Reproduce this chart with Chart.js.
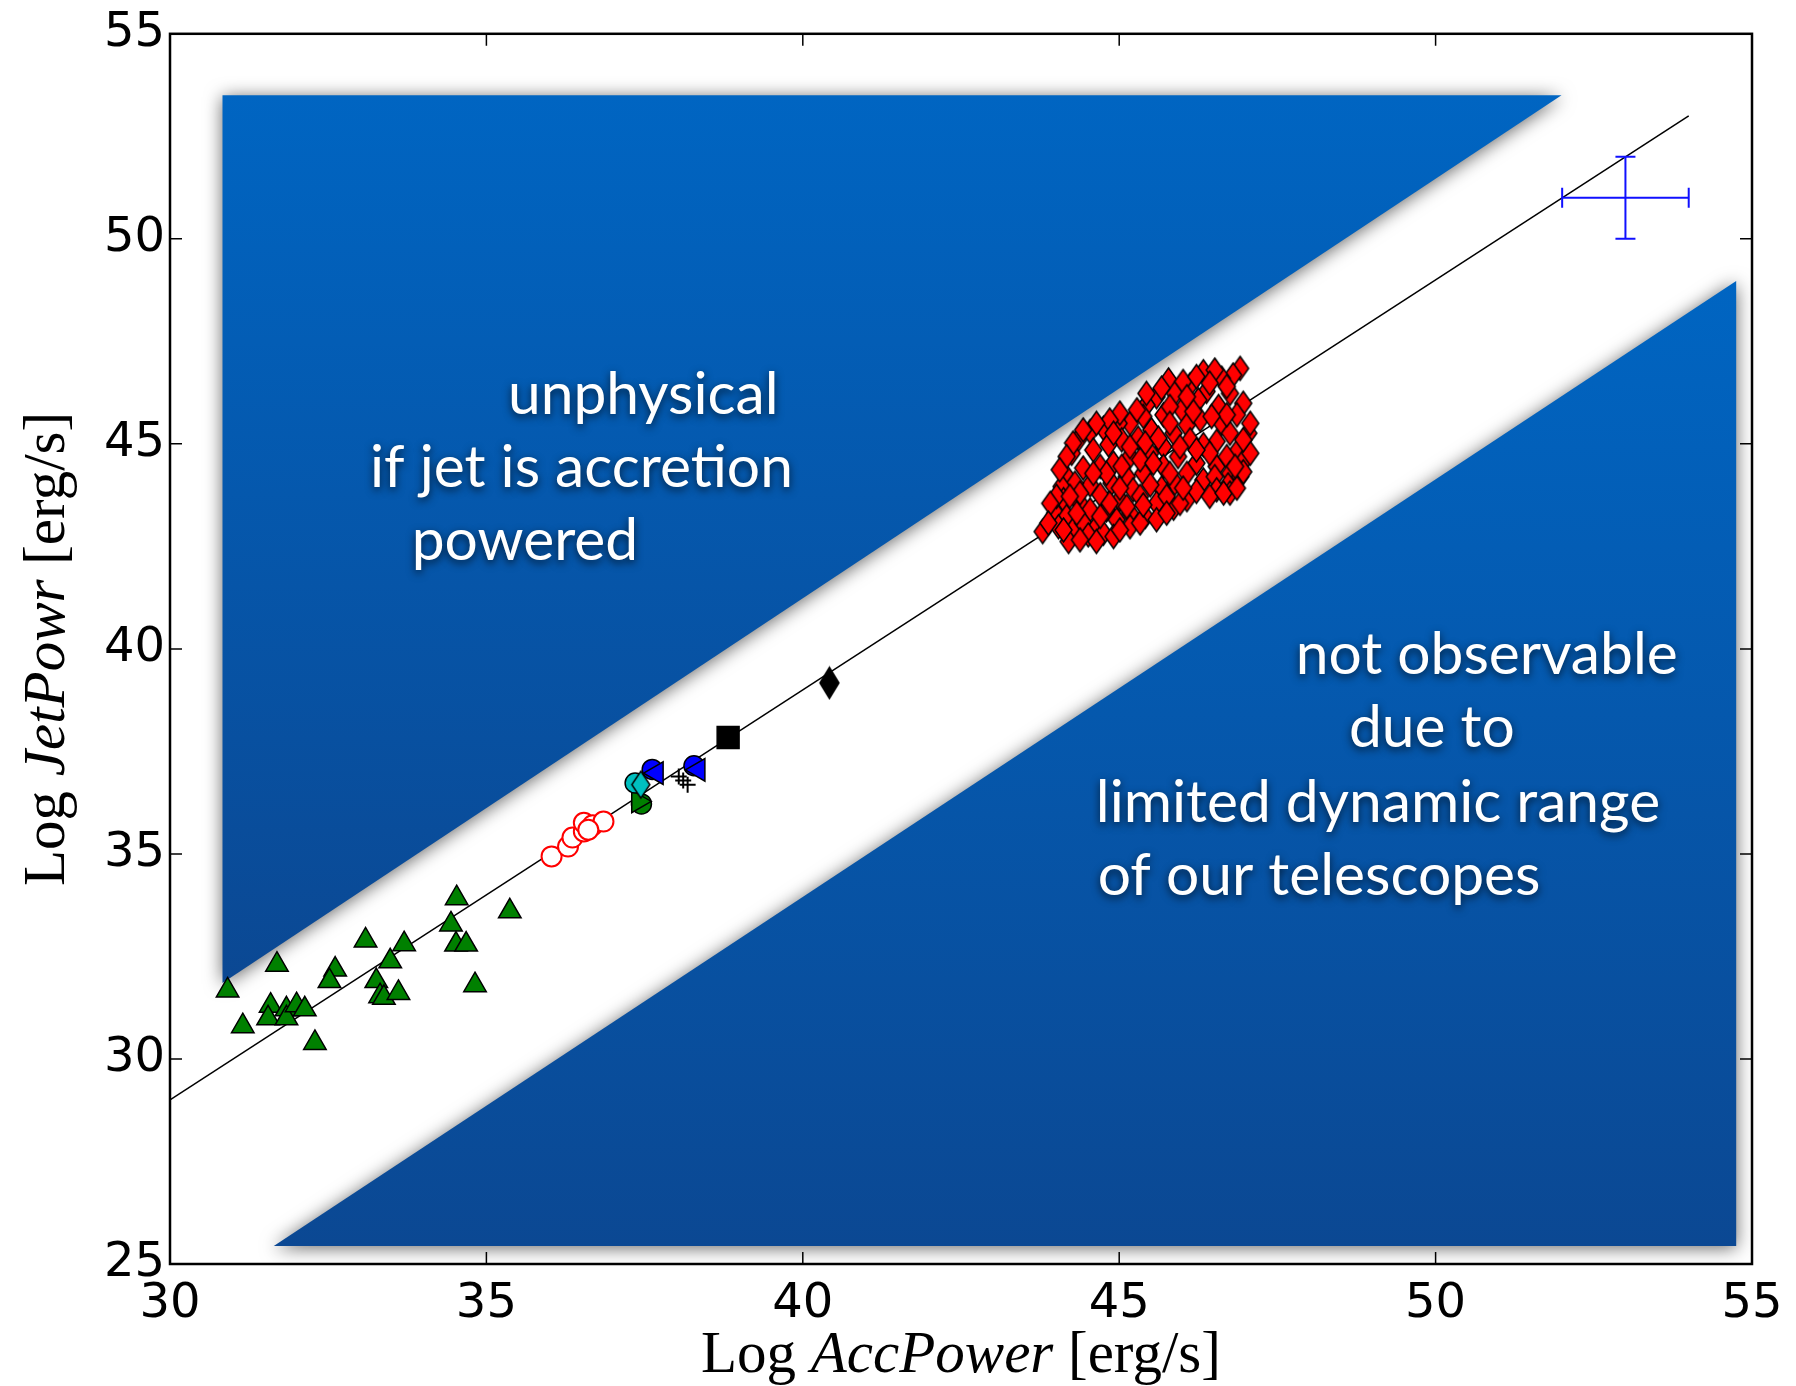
<!DOCTYPE html>
<html>
<head>
<meta charset="utf-8">
<script src="https://cdn.jsdelivr.net/npm/chart.js@4.4.1/dist/chart.umd.min.js"></script>
<style>
  html, body { margin: 0; padding: 0; background: #fff; }
  #wrap { width: 1796px; height: 1386px; }
</style>
</head>
<body>
<div id="wrap"><canvas id="chart" width="1796" height="1386"></canvas></div>
<script>
// ---- data (Log AccPower, Log JetPowr) ----
const triX = [30.91, 31.69, 31.15, 31.59, 31.55, 31.84, 31.84, 32.00, 32.13, 32.29, 32.61, 32.52, 33.09,
              33.26, 33.32, 33.38, 33.61, 33.48, 33.70, 34.44, 34.53, 34.52, 34.68, 34.82, 35.37];
const triY = [31.67, 32.30, 30.80, 31.30, 30.99, 31.21, 30.99, 31.31, 31.21, 30.39, 32.18, 31.90, 32.89,
              31.90, 31.53, 31.49, 31.61, 32.38, 32.80, 33.28, 33.92, 32.79, 32.79, 31.80, 33.60];

const ringX = [36.03, 36.29, 36.36, 36.54, 36.54, 36.68, 36.85, 36.61];
const ringY = [34.94, 35.18, 35.40, 35.55, 35.76, 35.70, 35.79, 35.59];

const diaX = [46.91, 46.80, 46.33, 46.62, 46.51, 45.78, 46.12, 46.38, 46.75, 46.96, 45.88, 45.59, 45.43, 46.25,
              46.57, 46.86, 47.04, 45.99, 45.70, 45.38, 45.17, 44.99, 44.75, 44.54, 44.35, 46.28, 46.62, 46.75,
              46.07, 45.86, 45.51, 45.30, 45.04, 44.83, 44.59, 44.25, 46.54, 46.33, 46.12, 46.86, 46.94, 45.70,
              45.49, 45.17, 44.91, 44.70, 44.43, 44.17, 45.93, 46.22, 46.54, 46.70, 46.75, 46.91, 46.72, 45.70,
              45.38, 45.12, 44.88, 44.54, 44.30, 44.09, 46.07, 46.33, 46.51, 45.88, 45.67, 45.22, 44.70, 44.38,
              44.12, 43.99, 45.59, 45.86, 46.07, 46.22, 45.33, 45.01, 44.80, 44.54, 44.17, 44.04, 44.27, 44.43,
              44.64, 44.96, 45.17, 45.41, 45.17, 44.75, 44.51, 44.20, 43.79, 44.91, 45.75, 46.54, 46.75, 46.96,
              46.01, 46.22, 45.67, 45.43, 45.28, 45.01, 44.85, 44.64, 44.43, 44.27, 44.17, 44.06, 44.01, 43.91,
              43.88, 44.12, 44.38, 44.64, 45.01, 45.33, 45.59, 45.75, 45.96, 46.43, 46.65, 46.86, 46.83, 47.07,
              46.96, 47.07, 46.70, 46.46, 46.17, 45.80, 46.07, 46.43, 46.70, 44.91, 45.17, 45.41, 45.62, 45.80,
              45.96, 46.43, 46.22, 45.04, 45.33, 45.54, 45.80, 46.01, 45.49, 45.01, 44.80, 44.59, 44.38, 44.22,
              44.85, 45.12, 45.38, 44.70, 44.33];
const diaY = [46.84, 46.68, 46.76, 46.60, 46.80, 46.56, 46.44, 46.28, 46.23, 45.99, 46.23, 46.15, 45.95, 46.07,
              45.91, 45.71, 45.26, 45.83, 45.71, 45.67, 45.50, 45.50, 45.38, 45.30, 45.10, 45.59, 45.50, 45.26,
              45.46, 45.26, 45.34, 45.14, 45.10, 44.98, 44.85, 44.77, 45.06, 44.98, 45.10, 44.81, 44.53, 44.93,
              44.77, 44.69, 44.53, 44.45, 44.41, 44.20, 44.69, 44.53, 44.45, 44.69, 44.28, 44.20, 44.00, 44.45,
              44.28, 44.20, 44.04, 44.00, 44.04, 43.96, 44.28, 44.12, 44.20, 44.04, 43.92, 43.88, 43.76, 43.55,
              43.64, 43.31, 43.55, 43.43, 43.64, 43.84, 43.72, 43.64, 43.39, 43.39, 43.23, 42.98, 42.90, 43.07,
              42.98, 43.15, 43.31, 43.23, 42.98, 42.82, 42.78, 42.62, 42.86, 42.74, 43.72, 43.88, 43.80, 44.32,
              46.52, 46.64, 46.36, 46.23, 45.83, 45.75, 45.58, 45.50, 45.34, 45.02, 44.69, 44.37, 43.72, 43.55,
              43.07, 42.90, 42.66, 42.62, 42.90, 43.07, 43.15, 43.31, 43.55, 43.72, 43.80, 43.92, 44.45, 44.77,
              45.10, 45.50, 45.71, 45.67, 45.79, 45.91, 46.15, 46.48, 46.40, 45.26, 44.93, 45.02, 45.14, 45.50,
              44.93, 44.77, 44.85, 44.45, 44.61, 44.53, 44.28, 43.92, 44.00, 43.92, 44.28, 44.28, 43.80, 43.72,
              43.55, 43.47, 43.51, 43.23, 43.31];

const greenRightX = [37.40], greenRightY = [36.28];
const greenDotX = [37.45], greenDotY = [36.22];
const cyanDiaX = [37.44], cyanDiaY = [36.69];
const cyanDotX = [37.35], cyanDotY = [36.73];
const blueLeftX = [37.69, 38.35], blueLeftY = [36.97, 37.05];
const blueDotX = [37.62, 38.28], blueDotY = [37.06, 37.15];
const hashX = [38.04, 38.11, 38.18], hashY = [36.89, 36.79, 36.69];
const squareX = [38.82], squareY = [37.84];
const blackDiaX = [40.42], blackDiaY = [39.17];

const fitX = [30, 54], fitY = [29, 53];
const errX = [53], errY = [51], errXHalf = [1], errYHalf = [1];

// shaded regions (corners in data units)
const upperX = [30.83, 51.99, 30.83], upperY = [53.50, 53.50, 31.85];
const lowerX = [31.64, 54.75, 54.75], lowerY = [25.44, 25.44, 48.97];

const xTicks = [30, 35, 40, 45, 50, 55];
const yTicks = [25, 30, 35, 40, 45, 50, 55];

// annotation text, anchored at left edge / baseline in data units
const notes = [
  ['unphysical', 35.34, 45.74],
  ['if jet is accretion', 33.16, 43.96],
  ['powered', 33.82, 42.18],
  ['not observable', 47.79, 39.40],
  ['due to', 48.63, 37.60],
  ['limited dynamic range', 44.63, 35.79],
  ['of our telescopes', 44.66, 33.99]
];

const pts = (xs, ys) => xs.map((v, i) => ({x: v, y: ys[i]}));

function diamondMarker(w, h, fill) {
  const c = document.createElement('canvas');
  c.width = w + 4;
  c.height = h + 4;
  const g = c.getContext('2d');
  g.beginPath();
  g.moveTo(c.width / 2, 2);
  g.lineTo(c.width - 2, c.height / 2);
  g.lineTo(c.width / 2, c.height - 2);
  g.lineTo(2, c.height / 2);
  g.closePath();
  g.fillStyle = fill;
  g.fill();
  g.lineWidth = 1.5;
  g.strokeStyle = '#000';
  g.stroke();
  return c;
}

const regionsPlugin = {
  id: 'regions',
  beforeDatasetsDraw(chart) {
    const {ctx, scales: {x, y}} = chart;
    [[upperX, upperY], [lowerX, lowerY]].forEach(([xs, ys]) => {
      const px = xs.map(v => x.getPixelForValue(v));
      const py = ys.map(v => y.getPixelForValue(v));
      const grad = ctx.createLinearGradient(0, Math.min(...py), 0, Math.max(...py));
      grad.addColorStop(0, '#0065c2');
      grad.addColorStop(1, '#0b4893');
      ctx.save();
      ctx.shadowColor = 'rgba(0,0,0,0.6)';
      ctx.shadowBlur = 18;
      ctx.shadowOffsetY = 2;
      ctx.beginPath();
      px.forEach((p, i) => i ? ctx.lineTo(p, py[i]) : ctx.moveTo(p, py[i]));
      ctx.closePath();
      ctx.fillStyle = grad;
      ctx.fill();
      ctx.restore();
    });

    // white labels on the regions
    ctx.save();
    ctx.font = '100px Lato';
    const size = 100 * 423 / ctx.measureText('if jet is accretion').width;
    ctx.font = size.toFixed(1) + 'px Lato';
    ctx.fillStyle = '#fff';
    ctx.textAlign = 'left';
    ctx.textBaseline = 'alphabetic';
    ctx.shadowColor = 'rgba(0,0,0,0.7)';
    ctx.shadowBlur = 8;
    ctx.shadowOffsetY = 3;
    notes.forEach(([t, nx, ny]) => ctx.fillText(t, x.getPixelForValue(nx), y.getPixelForValue(ny)));
    ctx.restore();
  }
};

const framePlugin = {
  id: 'frame',
  afterDatasetsDraw(chart) {
    const {ctx, chartArea: {left, right, top, bottom}, scales: {x, y}} = chart;
    ctx.save();
    ctx.strokeStyle = '#000';
    ctx.lineWidth = 1.5;
    ctx.beginPath();
    x.ticks.forEach(t => {
      const p = x.getPixelForValue(t.value);
      ctx.moveTo(p, bottom); ctx.lineTo(p, bottom - 12);
      ctx.moveTo(p, top); ctx.lineTo(p, top + 12);
    });
    y.ticks.forEach(t => {
      const p = y.getPixelForValue(t.value);
      ctx.moveTo(left, p); ctx.lineTo(left + 12, p);
      ctx.moveTo(right, p); ctx.lineTo(right - 12, p);
    });
    ctx.stroke();
    ctx.lineWidth = 2.5;
    ctx.strokeRect(left, top, right - left, bottom - top);
    ctx.restore();
  }
};

function drawMixed(ctx, parts, cx, baseline) {
  const fonts = parts.map(p => (p[1] ? 'italic ' : '') + '59px "Liberation Serif"');
  let total = 0;
  const widths = parts.map((p, i) => { ctx.font = fonts[i]; const w = ctx.measureText(p[0]).width; total += w; return w; });
  let cur = cx - total / 2;
  parts.forEach((p, i) => { ctx.font = fonts[i]; ctx.fillText(p[0], cur, baseline); cur += widths[i]; });
}

const titlesPlugin = {
  id: 'titles',
  afterDraw(chart) {
    const {ctx, chartArea: {left, right, top, bottom}} = chart;
    ctx.save();
    ctx.fillStyle = '#000';
    ctx.textAlign = 'left';
    ctx.textBaseline = 'alphabetic';
    drawMixed(ctx, [['Log ', false], ['AccPower', true], [' [erg/s]', false]], (left + right) / 2, 1372);
    ctx.translate(64, (top + bottom) / 2);
    ctx.rotate(-Math.PI / 2);
    drawMixed(ctx, [['Log ', false], ['JetPowr', true], [' [erg/s]', false]], 0, 0);
    ctx.restore();
  }
};

Chart.defaults.font.family = 'DejaVu Sans';
Chart.defaults.color = '#000';

const redDiamond = diamondMarker(17, 24, '#ff0000');
const cyanDiamond = diamondMarker(18, 27, '#00bfbf');
const blackDiamond = diamondMarker(19, 31, '#000000');

const marker = (data, style, radius, fill, extra) => Object.assign({
  data, pointStyle: style, pointRadius: radius, pointBackgroundColor: fill,
  pointBorderColor: '#000', pointBorderWidth: 1.5, showLine: false
}, extra || {});

const cx = errX[0], cy = errY[0];

new Chart(document.getElementById('chart'), {
  type: 'scatter',
  data: {
    datasets: [
      {data: [{x: cx - errXHalf[0], y: cy}, {x: cx + errXHalf[0], y: cy}], showLine: true, borderColor: '#1010ff',
       borderWidth: 2, pointStyle: 'line', pointRotation: 90, pointRadius: 10, pointBorderColor: '#1010ff', pointBorderWidth: 2},
      {data: [{x: cx, y: cy - errYHalf[0]}, {x: cx, y: cy + errYHalf[0]}], showLine: true, borderColor: '#1010ff',
       borderWidth: 2, pointStyle: 'line', pointRotation: 0, pointRadius: 10, pointBorderColor: '#1010ff', pointBorderWidth: 2},
      marker(pts(blackDiaX, blackDiaY), blackDiamond, 10, '#000'),
      marker(pts(squareX, squareY), 'rect', 15.5, '#000'),
      marker(pts(hashX, hashY), 'cross', 8, '#000', {pointBorderWidth: 2}),
      marker(pts(blueLeftX, blueLeftY), 'triangle', 13, '#0000ff', {pointRotation: -90}),
      marker(pts(blueDotX, blueDotY), 'circle', 10, '#0000ff'),
      marker(pts(cyanDiaX, cyanDiaY), cyanDiamond, 10, '#00bfbf'),
      marker(pts(cyanDotX, cyanDotY), 'circle', 10, '#00bfbf'),
      marker(pts(greenRightX, greenRightY), 'triangle', 13, '#008000', {pointRotation: 90}),
      marker(pts(greenDotX, greenDotY), 'circle', 10, '#008000'),
      marker(pts(ringX, ringY), 'circle', 10, '#ffffff', {pointBorderColor: '#ff0000', pointBorderWidth: 2}),
      marker(pts(diaX, diaY), redDiamond, 10, '#ff0000'),
      marker(pts(triX, triY), 'triangle', 13, '#008000'),
      {data: pts(fitX, fitY), showLine: true, borderColor: '#000', borderWidth: 1.5, pointRadius: 0}
    ]
  },
  options: {
    responsive: false,
    animation: false,
    events: [],
    layout: {padding: {left: 0, right: 44, top: 32, bottom: 0}},
    plugins: {legend: {display: false}, tooltip: {enabled: false}},
    scales: {
      x: {
        type: 'linear', min: xTicks[0], max: xTicks[xTicks.length - 1],
        afterBuildTicks: s => { s.ticks = xTicks.map(v => ({value: v})); },
        afterFit: s => { s.height = 122; },
        ticks: {font: {size: 48}, padding: 12, maxRotation: 0, autoSkip: false},
        grid: {display: false, drawTicks: false}, border: {display: false}
      },
      y: {
        type: 'linear', min: yTicks[0], max: yTicks[yTicks.length - 1],
        afterBuildTicks: s => { s.ticks = yTicks.map(v => ({value: v})); },
        afterFit: s => { s.width = 170; },
        ticks: {font: {size: 48}, padding: 5, autoSkip: false},
        grid: {display: false, drawTicks: false}, border: {display: false}
      }
    }
  },
  plugins: [regionsPlugin, framePlugin, titlesPlugin]
});
</script>
</body>
</html>
